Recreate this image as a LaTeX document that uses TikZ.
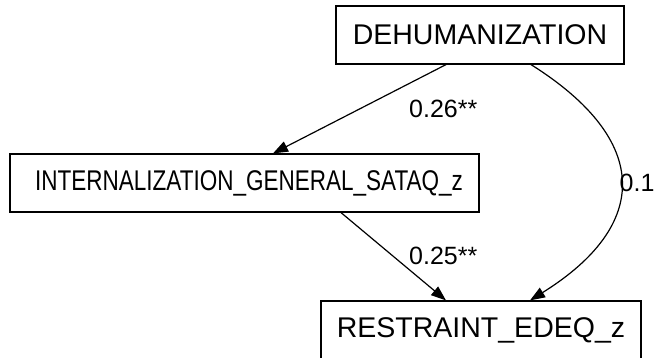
\documentclass[tikz,border=0pt]{standalone}
\usepackage{fontspec}
\setmainfont{Liberation Sans}
\usetikzlibrary{arrows.meta}
\begin{document}
\begin{tikzpicture}[x=1pt,y=-1pt,
  var/.style={draw,line width=1.2pt,inner sep=0pt,minimum height=58pt,font=\fontsize{28.5}{30}\selectfont},
  path/.style={line width=1.2pt,-{Triangle[length=15pt,width=11pt]}},
  coef/.style={inner sep=0pt,anchor=west,font=\fontsize{25}{27}\selectfont}]
  \useasboundingbox (0,0) rectangle (654,358);
  \clip (0,0) rectangle (654,358);
  % variables
  \node[var,minimum width=288pt] (D) at (480,35) {DEHUMANIZATION};
  \node[var,minimum width=469pt] (I) at (244.5,183)
    {\hspace{9pt}\scalebox{0.79}[1]{INTERNALIZATION\_GENERAL\_SATAQ\_z}};
  \node[var,minimum width=320pt] (R) at (481,330) {RESTRAINT\_EDEQ\_z};
  % paths
  \draw[path] ([xshift=-34pt]D.south) -- ([xshift=28.5pt]I.north);
  \draw[path] ([xshift=96.5pt]I.south) -- ([xshift=-35pt]R.north);
  \draw[path] ([xshift=51pt]D.south) .. controls (651,140) and (651,225) .. ([xshift=49pt]R.north);
  % coefficients
  \node[coef] (c1) at (409,109) {0.26**};
  \node[coef] (c2) at (409,256) {0.25**};
  \node[coef] (c3) at (619.5,183) {0.1};
\end{tikzpicture}
\end{document}
